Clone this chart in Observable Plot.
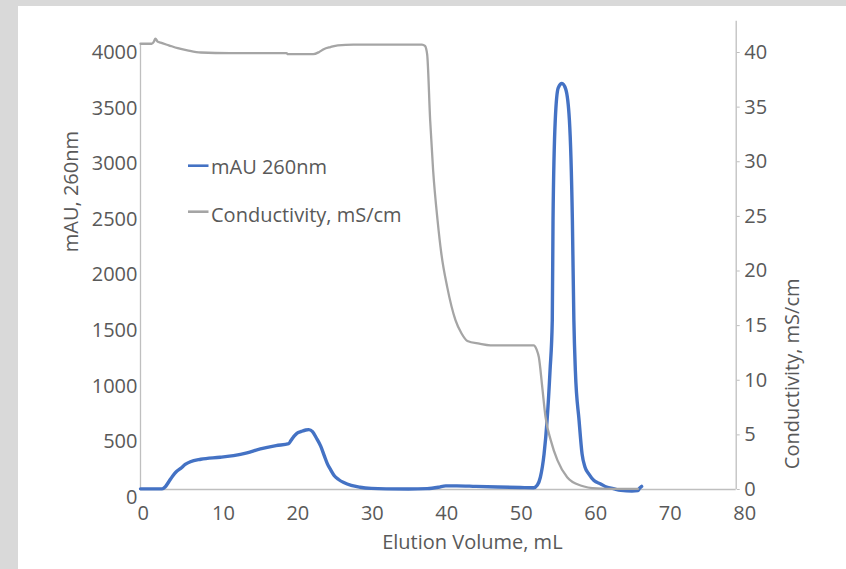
<!DOCTYPE html>
<html>
<head>
<meta charset="utf-8">
<script src="https://cdn.jsdelivr.net/npm/d3@7"></script>
<script src="https://cdn.jsdelivr.net/npm/@observablehq/plot@0.6"></script>
<style>
  html, body { margin: 0; padding: 0; }
  body { width: 846px; height: 569px; background: #d9d9d9; position: relative; overflow: hidden; font-family: "Open Sans", sans-serif; }
  #panel { position: absolute; left: 18px; top: 6px; width: 828px; height: 563px; background: #ffffff; }
  #chart { position: absolute; left: 0; top: 0; }
  #legend { position: absolute; left: 0; top: 0; }
</style>
</head>
<body>
<div id="panel"></div>
<div id="chart"></div>
<svg id="legend" width="846" height="569"></svg>
<script>
// ---- Data ----
// UV absorbance trace (mAU at 260 nm) vs elution volume (mL)
const auVolume = [0, 2.9, 3.3, 3.8, 4.3, 4.8, 5.4, 6.0, 6.7, 8.1, 10.7, 12.5, 14.3, 16.1, 18.2, 19.9, 20.2, 20.6, 21.0, 21.6, 22.2, 22.6, 23.1, 23.6, 24.2, 24.7, 25.1, 25.6, 26.0, 26.6, 27.3, 28.3, 29.5, 31.0, 33.0, 36.0, 38.5, 40.0, 41.0, 42.5, 45.0, 48.0, 51.0, 52.8, 53.3, 53.7, 54.2, 54.6, 55.0, 55.3, 55.4, 55.7, 56.1, 56.6, 57.1, 57.6, 58.0, 58.2, 58.4, 58.9, 59.3, 59.7, 60.2, 60.9, 61.8, 62.6, 63.5, 64.5, 66.0, 66.8, 67.0, 67.3];
const auValue  = [6, 6, 22, 70, 120, 160, 190, 225, 250, 272, 290, 305, 330, 366, 395, 412, 440, 478, 505, 522, 535, 538, 520, 465, 390, 300, 230, 170, 126, 90, 62, 36, 20, 10, 6, 5, 8, 20, 33, 33, 28, 22, 18, 16, 40, 110, 320, 620, 1070, 1520, 2420, 3320, 3610, 3650, 3600, 3320, 2420, 1520, 1070, 620, 320, 200, 140, 80, 50, 22, 8, -8, -14, -10, 10, 28];

// Conductivity trace (mS/cm) vs elution volume (mL)
const condVolume = [0, 1.5, 1.8, 2.0, 2.3, 2.7, 3.8, 5.0, 6.3, 8.1, 12.0, 19.6, 19.8, 23.2, 24.0, 24.6, 25.5, 26.5, 28.6, 33.0, 37.8, 38.2, 38.5, 38.9, 39.3, 39.9, 40.4, 41.2, 42.3, 43.1, 43.9, 45.5, 47.0, 52.8, 53.2, 53.5, 53.95, 54.4, 55.1, 56.0, 57.3, 59.1, 61.3, 64.0, 66.8];
const condValue  = [40.8, 40.8, 41.0, 41.27, 41.0, 40.9, 40.66, 40.4, 40.2, 40.0, 39.95, 39.95, 39.85, 39.85, 40.05, 40.3, 40.5, 40.66, 40.72, 40.72, 40.72, 40.6, 39.8, 33.8, 29.2, 24.6, 21.6, 18.5, 15.5, 14.3, 13.6, 13.35, 13.2, 13.2, 12.8, 12.1, 9.4, 6.6, 4.5, 2.66, 1.13, 0.37, 0.1, 0.05, 0.05];

// Axis ticks
const xTicks = [0, 10, 20, 30, 40, 50, 60, 70, 80];
const auTicks = [0, 500, 1000, 1500, 2000, 2500, 3000, 3500, 4000];
const condTicks = [0, 5, 10, 15, 20, 25, 30, 35, 40];

// Series names / titles
const seriesNames = ["mAU 260nm", "Conductivity, mS/cm"];
const seriesColors = ["#4472C4", "#A5A5A5"];
const xTitle = "Elution Volume, mL";
const yLeftTitle = "mAU, 260nm";
const yRightTitle = "Conductivity, mS/cm";

// ---- Build tables ----
const auData = auVolume.map((v, i) => ({vol: v, val: auValue[i]}));
const condData = condVolume.map((v, i) => ({vol: v, val: condValue[i]}));

// Secondary axis mapping: conductivity expressed in primary (mAU) units
const K = 98.2;
const axisColor = "#bfbfbf";
const textColor = "#595959";
const FS = 20;

const chart = Plot.plot({
  width: 846,
  height: 569,
  marginLeft: 140,
  marginRight: 110.3,
  marginTop: 44,
  marginBottom: 80,
  style: {background: "transparent", fontFamily: "'Open Sans', sans-serif", fontSize: FS + "px", color: textColor, overflow: "visible"},
  x: {domain: [0, 80]},
  y: {domain: [0, 4000]},
  marks: [
    // axis lines
    Plot.ruleY([0], {stroke: axisColor, strokeWidth: 1.3}),
    Plot.ruleX([0], {y1: 0, y2: 4010, stroke: axisColor, strokeWidth: 1.3}),
    Plot.ruleX([80], {y1: 0, y2: 42.85 * K, stroke: axisColor, strokeWidth: 1.3}),
    // axes
    Plot.axisX(xTicks, {anchor: "bottom", tickSize: 0, tickPadding: 16, textAnchor: "start", dx: -3, tickFormat: d => String(d), fontSize: FS, label: null}),
    Plot.axisY(auTicks, {anchor: "left", tickSize: 0, tickPadding: 3, dy: 8, tickFormat: d => String(d), fontSize: FS, label: null}),
    Plot.axisY(condTicks.map(v => v * K), {anchor: "right", tickSize: 3, tickPadding: 5, stroke: axisColor, tickFormat: d => String(Math.round(d / K)), fontSize: FS, label: null}),
    // axis titles
    Plot.text([xTitle], {text: d => d, frameAnchor: "bottom", dx: 34, dy: 53, lineAnchor: "middle", fill: textColor, fontSize: FS}),
    Plot.text([yLeftTitle], {text: d => d, frameAnchor: "left", rotate: -90, dx: -69.4, dy: -14.8, lineAnchor: "middle", fill: textColor, fontSize: FS}),
    Plot.text([yRightTitle], {text: d => d, frameAnchor: "right", rotate: -90, dx: 56, dy: 11.5, lineAnchor: "middle", fill: textColor, fontSize: FS}),
    // series
    Plot.line(auData, {x: "vol", y: "val", stroke: seriesColors[0], strokeWidth: 3.4, curve: "monotone-x"}),
    Plot.line(condData, {x: "vol", y: d => d.val * K, stroke: seriesColors[1], strokeWidth: 2.3, curve: "monotone-x"})
  ]
});
document.getElementById("chart").appendChild(chart);

// ---- Legend ----
const legend = d3.select("#legend");
const legendRows = [{lineY: 165.7, textY: 174.4}, {lineY: 211.7, textY: 221.9}];
seriesNames.forEach((name, i) => {
  const r = legendRows[i];
  legend.append("line").attr("x1", 188).attr("x2", 208.5).attr("y1", r.lineY).attr("y2", r.lineY)
    .attr("stroke", seriesColors[i]).attr("stroke-width", 2.6);
  legend.append("text").attr("x", 211).attr("y", r.textY).attr("fill", textColor)
    .attr("font-family", "'Open Sans', sans-serif").attr("font-size", FS).text(name);
});
</script>
</body>
</html>
